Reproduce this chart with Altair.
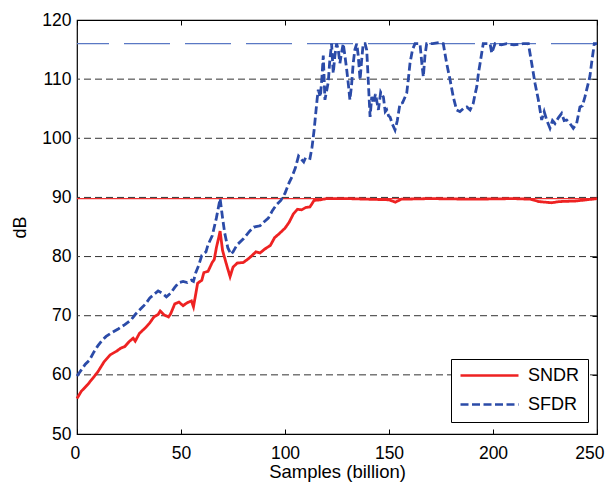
import altair as alt
import pandas as pd

# ---- data ----
sndr_x = [0, 2, 5, 8, 10, 13, 16, 19, 21, 23, 25, 27, 28, 30, 33, 35, 37, 39, 40, 42, 44, 45, 47, 49, 51, 53, 55, 56,
          57, 58, 60, 61, 63, 65, 66, 67, 68, 68.8, 70, 72, 73.6, 75, 77, 80, 83, 86, 88, 90, 93, 95, 97, 100, 102,
          104, 106, 108, 110, 112, 114, 117, 120, 130, 140, 150, 153, 156, 170, 190, 210, 218, 222, 228, 232, 240,
          245, 250]
sndr_y = [56.0, 57.2, 58.3, 59.6, 60.5, 62.2, 63.4, 64.0, 64.5, 64.8, 65.6, 66.2, 65.7, 67.0, 68.0, 68.8, 69.8, 70.2,
          70.8, 70.1, 69.8, 70.3, 72.0, 72.3, 71.7, 72.2, 72.5, 71.5, 73.5, 75.5, 76.0, 77.3, 77.5, 79.0, 79.5, 81.5,
          83.0, 84.3, 81.0, 78.5, 76.6, 78.2, 78.9, 79.0, 79.8, 80.8, 80.6, 81.2, 81.9, 83.2, 83.8, 84.8, 85.8, 87.2,
          88.0, 87.9, 88.3, 88.4, 89.5, 89.6, 89.8, 89.8, 89.7, 89.6, 89.2, 89.7, 89.8, 89.7, 89.8, 89.7, 89.3, 89.1,
          89.3, 89.4, 89.6, 89.8]

sfdr_x = [0, 2, 4, 6, 8, 10, 12, 14, 17, 20, 23, 26, 28, 31, 33, 35, 37, 39, 41, 43, 45, 47, 49, 51, 53, 55, 56, 57,
          58.5, 60, 62, 63, 65, 66, 67, 68.8, 70, 71, 72.5, 74, 75, 77, 80, 83, 85, 88, 90, 92, 94, 96, 98, 100, 102,
          103.5, 105, 106.5, 108, 109, 110, 112, 113, 114, 115, 115.5, 116, 117, 117.8, 118.4, 119.2, 120, 120.8,
          121.5, 122.4, 123.2, 124, 124.8, 125.6, 126.4, 127.2, 128, 128.8, 129.7, 130.5, 131.2, 132, 132.8, 133.6,
          134.5, 135.2, 136.1, 136.8, 137.6, 138.5, 139.3, 140, 140.9, 141.7, 142.5, 143.5, 144.9, 146, 147.3, 148.2,
          148.9, 149.8, 150.5, 151.5, 152.9, 154, 155.3, 156.5, 158.5, 159.3, 160.1, 161.3, 162.5, 163.7, 164.9,
          165.7, 166.5, 167.3, 168.1, 171, 174.5, 176.1, 177.7, 179.3, 180.9, 182.5, 184.1, 185.7, 187.4, 189, 190.5,
          191.4, 192.2, 193, 193.8, 195.3, 197, 198.6, 199.4, 201, 204, 206.6, 210, 214.6, 217, 218.6, 220.2, 221.8,
          223.4, 224.6, 225.8, 227.4, 228.6, 229.8, 231.5, 233, 234.2, 235.4, 237, 238.6, 240.2, 241.8, 243, 244.2,
          245.8, 246.6, 247.4, 248.7, 250]
sfdr_y = [59.8, 60.8, 61.8, 62.5, 63.8, 64.9, 65.8, 66.5, 67.2, 67.8, 68.5, 69.3, 70.2, 71.3, 72.0, 73.0, 73.6, 74.2,
          73.8, 73.2, 73.8, 74.8, 75.6, 75.8, 75.6, 76.0, 75.8, 77.2, 78.5, 80.2, 80.8, 82.0, 83.5, 85.0, 86.5, 89.8,
          86.5, 84.0, 81.5, 80.4, 80.8, 82.0, 83.0, 84.3, 85.0, 85.2, 85.9, 86.5, 87.8, 88.8, 89.5, 90.7, 92.5, 93.6,
          95.0, 97.0, 96.4, 96.0, 96.8, 96.6, 98.5, 101.4, 105.0, 106.8, 108.2, 107.0, 110.5, 114.0, 106.5, 108.0,
          109.5, 113.0, 116.0, 111.0, 114.0, 116.0, 115.0, 112.7, 114.5, 116.0, 114.0, 111.5, 109.0, 106.5, 109.0,
          112.7, 115.0, 116.0, 114.0, 109.9, 113.0, 116.0, 116.0, 114.9, 110.0, 103.6, 107.0, 105.9, 107.5, 104.8,
          107.8, 107.0, 104.5, 104.8, 103.8, 103.6, 102.5, 101.4, 103.0, 105.9, 106.0, 107.6, 110.0, 112.7, 115.0,
          116.0, 116.0, 116.0, 113.0, 110.4, 114.0, 116.0, 116.0, 116.2, 116.0, 112.7, 110.0, 107.0, 104.8, 104.5,
          105.0, 105.3, 104.8, 105.9, 107.5, 108.7, 111.0, 112.7, 116.0, 116.0, 116.0, 114.4, 116.0, 115.8, 116.0,
          115.8, 116.0, 116.0, 112.7, 109.3, 106.5, 103.1, 104.5, 103.1, 101.7, 103.0, 102.5, 103.5, 104.2, 103.0,
          103.1, 102.5, 101.7, 102.5, 105.3, 105.5, 107.0, 109.3, 110.5, 112.7, 116.0, 116.0]

series_names = ["SNDR", "SFDR"]
series_colors = ["#ee2222", "#2b4ba8"]
grid_values = [60, 70, 80, 90, 100, 110]
x_ticks = [0, 50, 100, 150, 200, 250]
y_ticks = [50, 60, 70, 80, 90, 100, 110, 120]
sfdr_limit = [116.0]
sndr_limit = [89.8]

FONT = "Liberation Sans"

rows = [{"x": a, "y": b, "series": "SNDR", "order": i} for i, (a, b) in enumerate(zip(sndr_x, sndr_y))]
rows += [{"x": a, "y": b, "series": "SFDR", "order": i} for i, (a, b) in enumerate(zip(sfdr_x, sfdr_y))]
df = pd.DataFrame(rows)

xscale = alt.Scale(domain=[0, 250], nice=False, zero=False)
yscale = alt.Scale(domain=[50, 120], nice=False, zero=False)

grid = alt.Chart(pd.DataFrame({"g": grid_values})).mark_rule(
    color="#333333", strokeWidth=1, strokeDash=[7, 4]
).encode(y=alt.Y("g:Q", scale=yscale, axis=None))

ref_blue = alt.Chart(pd.DataFrame({"r": sfdr_limit})).mark_rule(
    color="#5a78c4", strokeWidth=1.1, strokeDash=[46, 15]
).encode(y=alt.Y("r:Q", scale=yscale, axis=None))

ref_red = alt.Chart(pd.DataFrame({"r": sndr_limit})).mark_rule(
    color="#f03030", strokeWidth=1.2
).encode(y=alt.Y("r:Q", scale=yscale, axis=None))

legend_kw = dict(title=None, orient="none", legendX=374, legendY=339,
                 symbolType="stroke", symbolSize=3364, symbolStrokeWidth=2.6,
                 clipHeight=17, labelFont=FONT, labelFontSize=18, labelColor="black",
                 labelOffset=8, rowPadding=10, columnPadding=0, padding=8,
                 strokeColor="black", fillColor="white", cornerRadius=0)

lines = alt.Chart(df).mark_line(strokeWidth=2.8).encode(
    x=alt.X("x:Q", scale=xscale, axis=alt.Axis(
        orient="bottom", values=x_ticks, offset=-5, tickSize=5, tickColor="black", tickWidth=1,
        domain=False, grid=False, labelFlush=True, labelFlushOffset=7, labelPadding=10, labelFont=FONT,
        labelFontSize=17.5, labelColor="black",
        title="Samples (billion)", titleFont=FONT, titleFontSize=18.5, titleFontWeight="normal",
        titleColor="black", titlePadding=1)),
    y=alt.Y("y:Q", scale=yscale, axis=alt.Axis(
        orient="left", values=y_ticks, ticks=False, tickSize=0, domain=False, grid=False,
        labelFlush=False, labelPadding=6, labelFont=FONT, labelFontSize=17.5, labelColor="black",
        title="dB", titleFont=FONT, titleFontSize=18, titleFontWeight="normal",
        titleColor="black", titlePadding=12)),
    color=alt.Color("series:N", scale=alt.Scale(domain=series_names, range=series_colors),
                    legend=alt.Legend(**legend_kw)),
    strokeDash=alt.StrokeDash("series:N", scale=alt.Scale(domain=series_names, range=[[1, 0], [8, 3.5]]),
                              legend=alt.Legend(**legend_kw)),
    order="order:Q",
)

# inward ticks on the top and right edges
ticks_layer = alt.Chart(pd.DataFrame({"x": x_ticks[:2], "y": y_ticks[:2]})).mark_point(opacity=0).encode(
    x=alt.X("x:Q", scale=xscale, axis=alt.Axis(
        orient="top", values=x_ticks, offset=-5, tickSize=5, tickColor="black", labels=False,
        domain=False, grid=False, title=None)),
    y=alt.Y("y:Q", scale=yscale, axis=alt.Axis(
        orient="right", values=y_ticks, offset=-5, tickSize=5, tickColor="black", labels=False,
        domain=False, grid=False, title=None)),
)

chart = alt.layer(grid, ref_blue, ref_red, ticks_layer, lines).resolve_axis(
    x="independent", y="independent"
).properties(
    width=520, height=414,
    autosize=alt.AutoSizeParams(type="none"),
    padding={"left": 69, "top": 12, "right": 8, "bottom": 50},
).configure_view(stroke="black", strokeWidth=1.2)

chart.save("out.html", embed_options={"renderer": "svg", "actions": False})
